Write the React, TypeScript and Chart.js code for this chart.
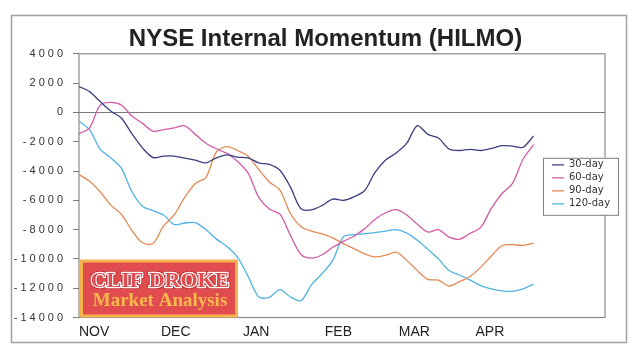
import React, { useEffect, useRef } from 'react';
import { Chart, registerables } from 'chart.js';

Chart.register(...registerables);

const chartTitle = 'NYSE Internal Momentum (HILMO)';
const logoLine1 = 'CLIF DROKE';
const logoLine2 = 'Market Analysis';

// days since Nov 1
const days = [0, 4, 8, 12, 16, 20, 24, 28, 32, 36, 40, 44, 48, 52, 56, 60, 64, 68, 72, 76, 80, 84,
  88, 92, 96, 100, 104, 108, 112, 116, 120, 124, 128, 132, 136, 140, 144, 148, 152, 156, 160, 164, 168, 172];

const monthTickDays = [0, 31, 62, 93, 121, 150];
const monthLabels = ['NOV', 'DEC', 'JAN', 'FEB', 'MAR', 'APR'];

const seriesNames = ['30-day', '60-day', '90-day', '120-day'];
const seriesColors = ['#3b3f7e', '#d25aa6', '#e48a55', '#4fb3e3'];

const day30 = [1770, 1420, 740, 100, -380, -1450, -2420, -3080, -2980, -2980, -3120, -3250, -3450, -3100,
  -2900, -3050, -3100, -3450, -3550, -3950, -5100, -6580, -6650, -6350, -5920, -6000, -5760, -5350, -4100,
  -3250, -2770, -2100, -900, -1500, -1750, -2500, -2600, -2520, -2600, -2460, -2270, -2300, -2380, -1600];

const day60 = [-1450, -1050, 500, 680, 500, -250, -750, -1280, -1180, -1060, -920, -1500, -2100, -2480,
  -2800, -3350, -4150, -5800, -6600, -6950, -8400, -9700, -9950, -9720, -9200, -8800, -8450, -7950, -7300,
  -6850, -6640, -7000, -7640, -8170, -8000, -8510, -8650, -8250, -7850, -6550, -5550, -4850, -3200, -2200];

const day90 = [-4250, -4700, -5420, -6330, -6950, -8050, -8900, -8950, -7750, -7000, -5800, -4850, -4450,
  -2700, -2330, -2600, -3000, -3900, -4750, -5300, -6900, -7800, -8100, -8290, -8560, -8960, -9300, -9650,
  -9860, -9750, -9540, -10100, -10800, -11400, -11450, -11850, -11550, -11200, -10560, -9800, -9100, -9030,
  -9070, -8930];

const day120 = [-600, -1200, -2500, -3100, -3800, -5400, -6400, -6700, -7000, -7650, -7550, -7530, -8000,
  -8650, -9150, -9900, -11200, -12600, -12620, -12100, -12600, -12850, -11750, -11000, -10100, -8500, -8350,
  -8280, -8200, -8100, -8000, -8240, -8730, -9350, -10000, -10790, -11100, -11450, -11820, -12050, -12180,
  -12210, -12050, -11720];

const yMin = -14000;
const yMax = 4000;
const yStep = 2000;
const xMax = 199;

const seriesValues = [day30, day60, day90, day120];

const decorPlugin = {
  id: 'decor',
  afterLayout(chart: any) {
    const lg = chart.legend;
    const ca = chart.chartArea;
    if (!lg) return;
    const w = lg.width;
    lg.left = ca.right - 56;
    lg.right = lg.left + w;
    lg.top = ca.top + 103;
    lg.bottom = lg.top + 60;
    lg.height = 60;
  },
  beforeDraw(chart: any) {
    const ctx = chart.ctx;
    const { width, height } = chart;
    const ca = chart.chartArea;
    (ctx as any).letterSpacing = '0px';
    ctx.save();
    ctx.fillStyle = '#ffffff';
    ctx.fillRect(0, 0, width, height);
    // outer frame
    ctx.strokeStyle = '#a0a0a0';
    ctx.lineWidth = 1.5;
    ctx.strokeRect(11.5, 15.5, width - 24, height - 23);
    // plot border
    ctx.strokeStyle = '#8a8a8a';
    ctx.lineWidth = 1.2;
    ctx.strokeRect(ca.left, ca.top, ca.right - ca.left, ca.bottom - ca.top);
    // legend box
    const lg = chart.legend;
    if (lg) {
      const bx = lg.left - 6;
      const by = lg.top + 1;
      ctx.fillStyle = '#ffffff';
      ctx.fillRect(bx, by, 75, 57);
      ctx.strokeStyle = '#808080';
      ctx.lineWidth = 1;
      ctx.strokeRect(bx + 0.5, by + 0.5, 75, 57);
    }
    ctx.restore();
  },
  afterDatasetsDraw(chart: any) {
    const ctx = chart.ctx;
    const ca = chart.chartArea;
    const lw = 158;
    const lh = 58;
    const lx = ca.left + 1;
    const ly = ca.bottom - lh;
    ctx.save();
    ctx.fillStyle = '#f5b34e';
    ctx.fillRect(lx, ly, lw, lh);
    ctx.fillStyle = '#e14c4f';
    ctx.fillRect(lx + 3, ly + 3, lw - 6, lh - 6);
    const cx = lx + lw / 2 + 1;
    ctx.textAlign = 'center';
    ctx.textBaseline = 'alphabetic';
    ctx.lineJoin = 'round';
    ctx.font = 'bold 22px "Liberation Serif", serif';
    ctx.strokeStyle = '#b8262c';
    ctx.lineWidth = 4;
    ctx.strokeText(logoLine1, cx, ly + 27);
    ctx.strokeStyle = '#ffffff';
    ctx.lineWidth = 2.4;
    ctx.strokeText(logoLine1, cx, ly + 27);
    ctx.fillStyle = '#e14c4f';
    ctx.fillText(logoLine1, cx, ly + 27);
    ctx.font = 'bold 19px "Liberation Serif", serif';
    ctx.fillStyle = '#f8b84c';
    ctx.fillText(logoLine2, cx, ly + 46);
    ctx.restore();
    // wide letter spacing for the y tick labels, which are drawn after the datasets (ticks.z = 1)
    (ctx as any).letterSpacing = '3px';
  },
  afterDraw(chart: any) {
    (chart.ctx as any).letterSpacing = '0px';
  },
};

export default function App() {
  const canvasRef = useRef<HTMLCanvasElement | null>(null);

  useEffect(() => {
    const canvas = canvasRef.current;
    if (!canvas) return;
    const datasets = seriesNames.map((name, i) => ({
      label: name,
      data: days.map((d, j) => ({ x: d, y: seriesValues[i][j] })),
      borderColor: seriesColors[i],
      backgroundColor: seriesColors[i],
      borderWidth: 1.3,
      pointRadius: 0,
      tension: 0.3,
      fill: false,
      yAxisID: 'y',
    }));

    const chart = new Chart(canvas, {
      type: 'line',
      data: { datasets },
      plugins: [decorPlugin],
      options: {
        responsive: false,
        animation: false,
        events: [],
        layout: { padding: { left: 12, right: 0, top: 10, bottom: 10 } },
        plugins: {
          title: {
            display: true,
            text: chartTitle,
            color: '#222222',
            font: { family: '"Liberation Sans", Arial, sans-serif', size: 24, weight: 'bold' },
            padding: { top: 15, bottom: 0 },
          },
          legend: {
            display: true,
            position: 'chartArea',
            align: 'start',
            labels: {
              usePointStyle: true,
              pointStyle: 'line',
              pointStyleWidth: 12,
              boxHeight: 10,
              padding: 3,
              color: '#333333',
              font: { family: '"DejaVu Sans", sans-serif', size: 10 },
            },
          },
          tooltip: { enabled: false },
        },
        scales: {
          x: {
            type: 'linear',
            min: 0,
            max: xMax,
            afterBuildTicks: (scale: any) => {
              scale.ticks = monthTickDays.map((v) => ({ value: v }));
            },
            afterFit: (scale: any) => {
              scale.height = 22.5;
            },
            grid: { display: false, drawTicks: false },
            border: { display: false },
            ticks: {
              autoSkip: false,
              maxRotation: 0,
              align: 'start',
              padding: 6,
              color: '#222222',
              font: { family: '"Liberation Sans", Arial, sans-serif', size: 14 },
              callback: (value: any) => {
                const i = monthTickDays.indexOf(Number(value));
                return i >= 0 ? monthLabels[i] : '';
              },
            },
          },
          y: {
            type: 'linear',
            position: 'left',
            min: yMin,
            max: yMax,
            afterFit: (scale: any) => {
              scale.width = 67;
            },
            grid: {
              color: (c: any) => (c.tick && c.tick.value === 0 ? '#7a7a7a' : 'rgba(0,0,0,0)'),
              tickColor: '#7a7a7a',
              tickLength: 6,
              drawTicks: true,
              lineWidth: 1,
            },
            border: { display: false },
            ticks: {
              stepSize: yStep,
              padding: 7,
              z: 1,
              color: '#333333',
              font: { family: '"Liberation Sans", Arial, sans-serif', size: 11 },
              callback: (value: any) => String(value),
            },
          },
          yRight: {
            type: 'linear',
            position: 'right',
            min: yMin,
            max: yMax,
            afterFit: (scale: any) => {
              scale.width = 34;
            },
            grid: { display: false, drawTicks: false },
            border: { display: false },
            ticks: { display: false },
          },
        },
      },
    });
    return () => chart.destroy();
  }, []);

  return (
    <div style={{ position: 'absolute', left: 0, top: 0, width: 639, height: 350, background: '#fff' }}>
      <canvas ref={canvasRef} width={639} height={350} style={{ display: 'block' }} />
    </div>
  );
}
